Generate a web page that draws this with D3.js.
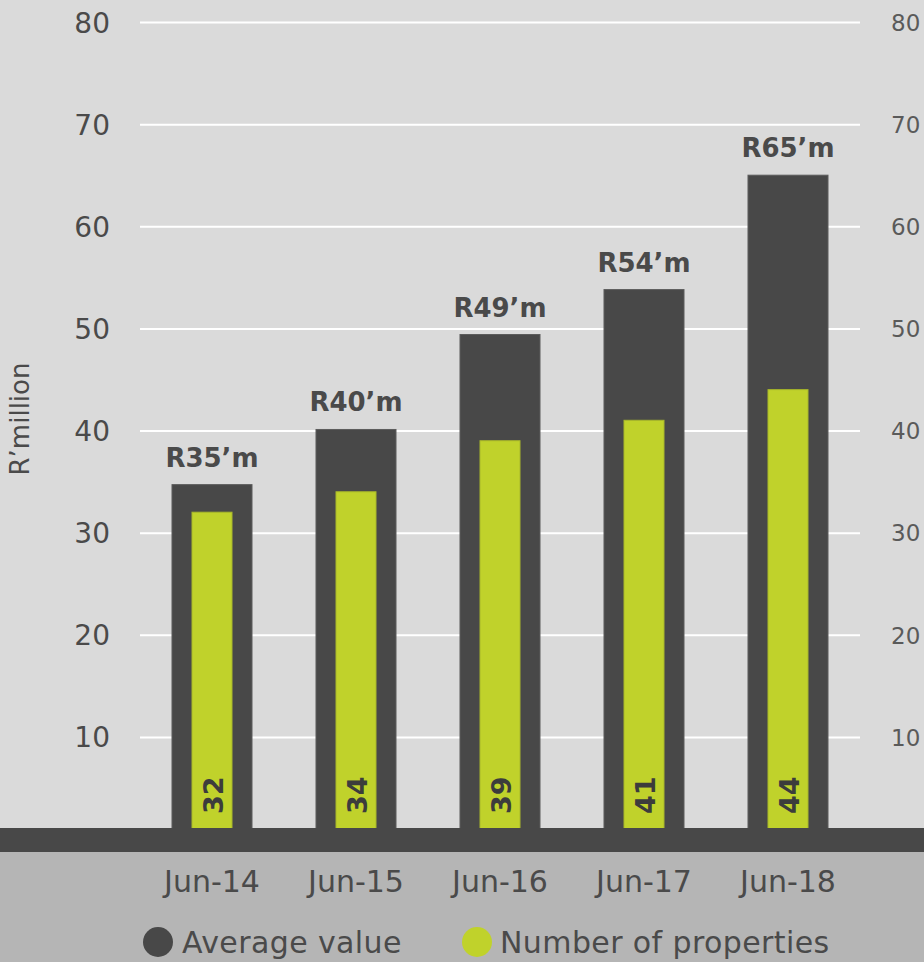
<!DOCTYPE html>
<html>
<head>
<meta charset="utf-8">
<script src="https://cdn.jsdelivr.net/npm/d3@7"></script>
<style>
  html, body { margin: 0; padding: 0; background: #dadada; }
  svg { display: block; }
  text { font-family: "DejaVu Sans", sans-serif; }
</style>
</head>
<body>
<div id="chart"></div>
<script>
// Portfolio by year: average value (R'million) and number of properties
const categories = ["Jun-14", "Jun-15", "Jun-16", "Jun-17", "Jun-18"];
const averageValue = [34.7, 40.1, 49.4, 53.8, 65];
const numberOfProperties = [32, 34, 39, 41, 44];
const yTicks = [10, 20, 30, 40, 50, 60, 70, 80];
const legendLabels = ["Average value", "Number of properties"];

const W = 924, H = 962;
const svg = d3.select("#chart").append("svg").attr("width", W).attr("height", H);

const x = d3.scaleBand().domain(categories).range([140, 860])
  .paddingInner(0.4444).paddingOuter(0.2222);
const y = d3.scaleLinear().domain([0, 80]).range([839, 22]);

const dark = "#484848", green = "#c0d22b", ink = "#4a4a4a";

// plot background
svg.append("rect").attr("x", 0).attr("y", 0).attr("width", W).attr("height", H).attr("fill", "#dadada");
// lower panel behind the category labels and legend
svg.append("rect").attr("x", 0).attr("y", 852).attr("width", W).attr("height", H - 852).attr("fill", "#b5b5b5");

// gridlines
const grid = d3.axisLeft(y).tickValues(yTicks).tickSize(-(860 - 140)).tickFormat("");
svg.append("g").attr("transform", "translate(140,0)").call(grid)
  .call(g => g.select(".domain").remove())
  .call(g => g.selectAll("line").attr("stroke", "#ffffff").attr("stroke-width", 2));

// left axis labels
svg.append("g").attr("transform", "translate(110,0)")
  .call(d3.axisLeft(y).tickValues(yTicks).tickSize(0).tickPadding(0))
  .call(g => g.select(".domain").remove())
  .call(g => g.selectAll("text").attr("fill", ink).attr("font-size", 28)
    .attr("font-family", "DejaVu Sans, sans-serif").attr("dy", "0.36em"));

// right axis labels
svg.append("g").attr("transform", "translate(891,0)")
  .call(d3.axisRight(y).tickValues(yTicks).tickSize(0).tickPadding(0))
  .call(g => g.select(".domain").remove())
  .call(g => g.selectAll("text").attr("fill", "#5a5a5a").attr("font-size", 23)
    .attr("font-family", "DejaVu Sans, sans-serif").attr("dy", "0.36em"));

// axis title
svg.append("text").attr("transform", "translate(29,419) rotate(-90)")
  .attr("text-anchor", "middle").attr("fill", ink).attr("font-size", 26)
  .text("R\u2019million");

// average value bars
svg.append("g").selectAll("rect").data(averageValue).join("rect")
  .attr("x", (d, i) => x(categories[i]))
  .attr("width", x.bandwidth())
  .attr("y", d => y(d))
  .attr("height", d => y(0) - y(d))
  .attr("fill", dark).attr("stroke", "#5c5c5c").attr("stroke-width", 1);

// number of properties bars
const gw = x.bandwidth() / 2;
svg.append("g").selectAll("rect").data(numberOfProperties).join("rect")
  .attr("x", (d, i) => x(categories[i]) + (x.bandwidth() - gw) / 2)
  .attr("width", gw)
  .attr("y", d => y(d))
  .attr("height", d => y(0) - y(d))
  .attr("fill", green).attr("stroke", "#a9b82a").attr("stroke-width", 1);

// value labels above bars
svg.append("g").selectAll("text").data(averageValue).join("text")
  .attr("x", (d, i) => x(categories[i]) + x.bandwidth() / 2)
  .attr("y", d => y(d) - 18)
  .attr("text-anchor", "middle").attr("font-weight", "bold").attr("font-size", 26)
  .attr("fill", ink)
  .text(d => `R${Math.round(d)}\u2019m`);

// property counts inside green bars, reading upward
svg.append("g").selectAll("text").data(numberOfProperties).join("text")
  .attr("transform", (d, i) => `translate(${x(categories[i]) + x.bandwidth() / 2 + 1},814) rotate(-90)`)
  .attr("text-anchor", "start").attr("dominant-baseline", "central")
  .attr("font-weight", "bold").attr("font-size", 27).attr("fill", "#3c3c3c")
  .text(d => d);

// baseline band
svg.append("rect").attr("x", 0).attr("y", 828).attr("width", W).attr("height", 24).attr("fill", dark);

// category labels
svg.append("g").attr("transform", "translate(0,892)")
  .call(d3.axisBottom(x).tickSize(0).tickPadding(0))
  .call(g => g.select(".domain").remove())
  .call(g => g.selectAll("text").attr("fill", ink).attr("font-size", 30)
    .attr("font-family", "DejaVu Sans, sans-serif").attr("dy", 0));

// legend
const legend = [
  { label: legendLabels[0], color: dark, cx: 158, tx: 182 },
  { label: legendLabels[1], color: green, cx: 477, tx: 500 }
];
const lg = svg.append("g").selectAll("g").data(legend).join("g");
lg.append("circle").attr("cx", d => d.cx).attr("cy", 942).attr("r", 15).attr("fill", d => d.color);
lg.append("text").attr("x", d => d.tx).attr("y", 953).attr("font-size", 30)
  .attr("letter-spacing", 0.4).attr("fill", ink)
  .text(d => d.label);
</script>
</body>
</html>
